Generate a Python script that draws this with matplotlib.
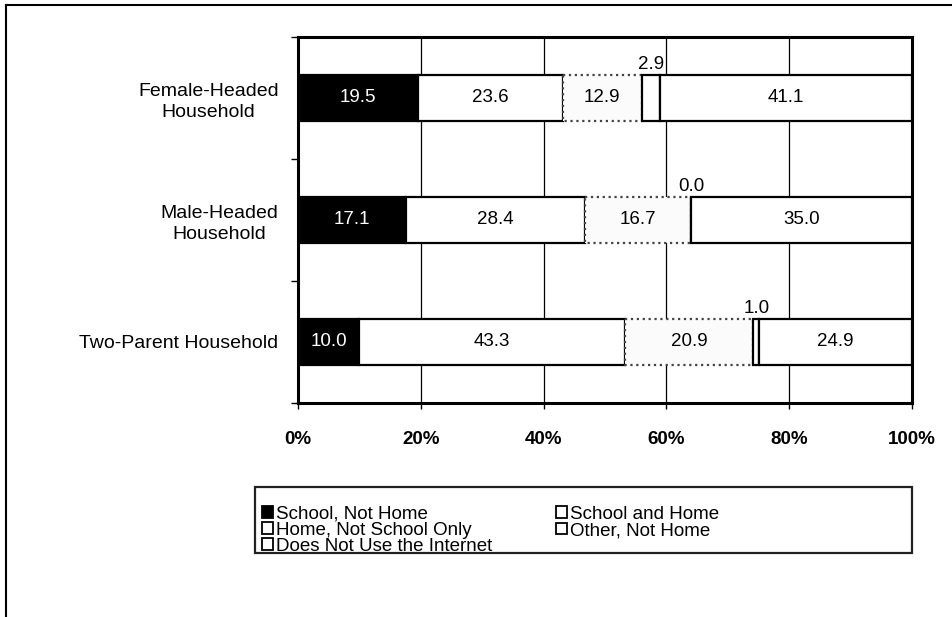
import matplotlib
matplotlib.use("Agg")
import matplotlib.pyplot as plt
from matplotlib.patches import Patch, Rectangle
from matplotlib.lines import Line2D
import numpy as np

plt.rcParams['font.family'] = ['Liberation Sans', 'DejaVu Sans']

categories = ["Female-Headed\nHousehold", "Male-Headed\nHousehold", "Two-Parent Household"]
series_names = ["School, Not Home", "School and Home", "Home, Not School Only",
                "Other, Not Home", "Does Not Use the Internet"]
school_not_home = [19.5, 17.1, 10.0]
school_and_home = [23.6, 28.4, 43.3]
home_not_school = [12.9, 16.7, 20.9]
other_not_home = [2.9, 0.0, 1.0]
no_internet = [41.1, 35.0, 24.9]
series_values = [school_not_home, school_and_home, home_not_school, other_not_home, no_internet]
colors = ["#000000", "#ffffff", "#fbfbfb", "#ffffff", "#ffffff"]
edge_styles = ["-", "-", ":", "-", "-"]
xticklabels = ["0%", "20%", "40%", "60%", "80%", "100%"]

W, H = 953, 617
fig = plt.figure(figsize=(W/100, H/100), dpi=100)
ax = fig.add_axes([298/W, 1-403/H, 614/W, 366/H])

data = np.array(series_values, dtype=float)
totals = data.sum(axis=0)
pct = data / totals * 100  # 100% stacked

y = np.arange(len(categories))
bar_h = 0.38
left = np.zeros(len(categories))
for k, (name, col, ls) in enumerate(zip(series_names, colors, edge_styles)):
    widths = pct[k]
    ax.barh(y, widths, left=left, height=bar_h, color=col,
            edgecolor="black" if ls == "-" else "#444444",
            linewidth=1.6, linestyle=ls, zorder=3)
    for i, w in enumerate(widths):
        raw = data[k, i]
        cx = left[i] + w / 2
        txtcol = "white" if col == "#000000" else "black"
        if raw < 5:
            ax.text(cx, y[i] - bar_h/2 - 0.015, f"{raw:.1f}", ha="center", va="bottom",
                    fontsize=13.5, color="black", zorder=4)
        else:
            ax.text(cx, y[i], f"{raw:.1f}", ha="center", va="center",
                    fontsize=13.5, color=txtcol, zorder=4)
    left = left + widths

ax.set_xlim(0, 100)
ax.set_ylim(2.5, -0.5)
ax.set_xticks(np.arange(0, 101, 20))
ax.set_xticklabels(xticklabels, fontsize=13.5, fontweight="bold")
ax.tick_params(axis="x", direction="out", length=4, width=1, pad=16)
ax.set_yticks(y)
ax.set_yticklabels(categories, fontsize=14, multialignment="center", linespacing=1.3)
ax.tick_params(axis="y", which="major", length=0, pad=14)
ax.set_yticks([-0.5, 0.5, 1.5, 2.5], minor=True)
ax.tick_params(axis="y", which="minor", direction="out", length=5, width=1)
ax.grid(axis="x", color="black", linewidth=0.9, zorder=0)
for s in ax.spines.values():
    s.set_linewidth(2.2)
    s.set_color("black")

handle_map = {n: Patch(facecolor=c, edgecolor="black", linewidth=1.3, linestyle="-")
              for n, c in zip(series_names, colors)}
col1 = ["School, Not Home", "Home, Not School Only", "Does Not Use the Internet"]
col2 = ["School and Home", "Other, Not Home"]
common = dict(fontsize=13.5, frameon=False, labelspacing=-0.05, handlelength=0.6,
              handleheight=0.6, handletextpad=0.15, borderpad=0, borderaxespad=0)
leg1 = fig.legend([handle_map[n] for n in col1], col1, loc="lower left",
                  bbox_to_anchor=(262/W, 1-555/H), **common)
leg2 = fig.legend([handle_map[n] for n in col2], col2, loc="upper left",
                  bbox_to_anchor=(556/W, 1-506/H), **common)

# legend frame
fig.add_artist(Rectangle((255/W, 1-553/H), 657/W, 66/H, transform=fig.transFigure,
                         facecolor="none", edgecolor="#222222", linewidth=1.6))

# outer frame lines
fig.add_artist(Line2D([6/W, 1], [1-5/H, 1-5/H], color="black", linewidth=1.5,
                      transform=fig.transFigure))
fig.add_artist(Line2D([6/W, 6/W], [1-5/H, 0], color="black", linewidth=1.5,
                      transform=fig.transFigure))

fig.savefig("out.png", dpi=100)
